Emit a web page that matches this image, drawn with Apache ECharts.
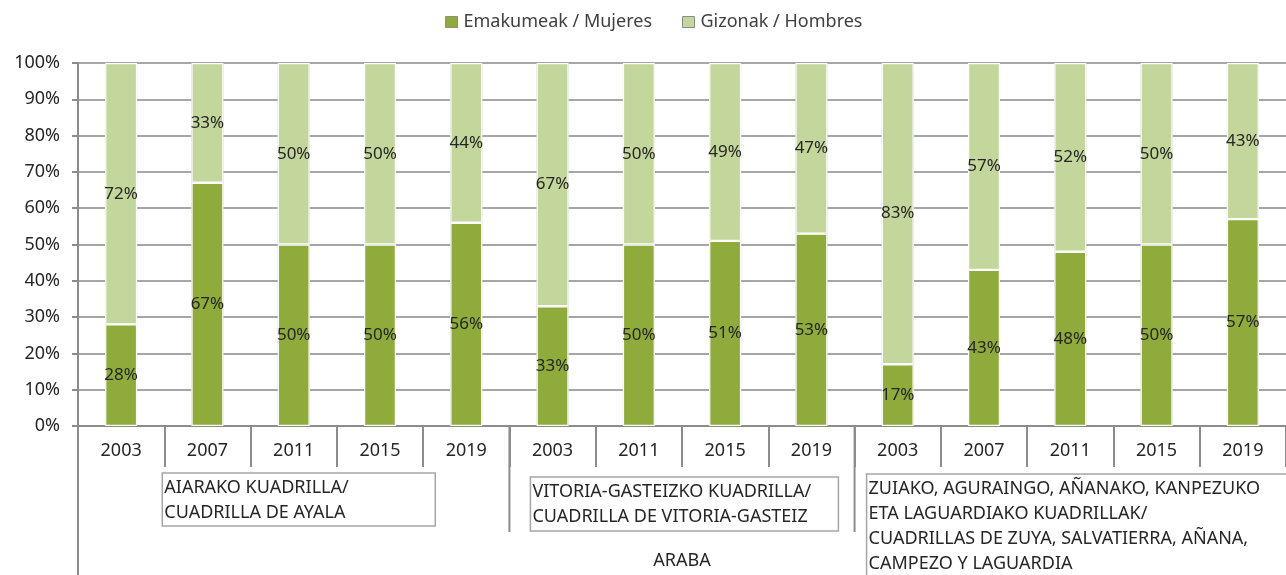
<!DOCTYPE html>
<html><head><meta charset="utf-8">
<script src="https://cdn.jsdelivr.net/npm/echarts@6/dist/echarts.min.js"></script>
<style>html,body{margin:0;padding:0;background:#fff}#c{width:1286px;height:575px}</style>
</head><body><div id="c"></div>
<script>
const years = ['2003','2007','2011','2015','2019','2003','2011','2015','2019','2003','2007','2011','2015','2019'];
const mujeres = [28,67,50,50,56,33,50,51,53,17,43,48,50,57];
const hombres = [72,33,50,50,44,67,50,49,47,83,57,52,50,43];
const groupNames = ['AIARAKO KUADRILLA/\nCUADRILLA DE AYALA','VITORIA-GASTEIZKO KUADRILLA/\nCUADRILLA DE VITORIA-GASTEIZ','ZUIAKO, AGURAINGO, AÑANAKO, KANPEZUKO\nETA LAGUARDIAKO KUADRILLAK/\nCUADRILLAS DE ZUYA, SALVATIERRA, AÑANA,\nCAMPEZO Y LAGUARDIA'];
const topLabel = 'ARABA';

const FONT = 'Noto Sans';
const totals = mujeres.map((v,i) => v + hombres[i]);
const chart = echarts.init(document.getElementById('c'));
const lbl = {show:true, position:'inside', formatter:'{c}%', color:'#262626', fontFamily:FONT, fontSize:17};
chart.setOption({
  animation:false,
  textStyle:{fontFamily:FONT},
  legend:{top:8, left:440, itemWidth:12, itemHeight:11, itemGap:30, icon:'rect',
    data:['Emakumeak / Mujeres','Gizonak / Hombres'],
    textStyle:{fontFamily:FONT, fontSize:18, color:'#404040', padding:[0,0,0,1]},
    itemStyle:{borderColor:'#8c8c8c', borderWidth:1}},
  grid:{left:78, top:63, width:1209, height:363, containLabel:false},
  xAxis:{type:'category', data:years,
    axisLine:{lineStyle:{color:'#8c8c8c', width:2}},
    axisTick:{show:true, length:41, lineStyle:{color:'#8c8c8c', width:2}},
    axisLabel:{color:'#262626', fontSize:18, fontFamily:FONT, margin:16}},
  yAxis:{type:'value', min:0, max:100, interval:10,
    axisLine:{show:true, lineStyle:{color:'#8c8c8c', width:2}},
    axisTick:{show:true, length:6, lineStyle:{color:'#8c8c8c', width:2}},
    axisLabel:{formatter:'{value}%', color:'#262626', fontSize:18, fontFamily:FONT, margin:18},
    splitLine:{show:true, lineStyle:{color:'#a6a6a6', width:2}}},
  series:[
    {name:'outline', type:'bar', data:totals, barWidth:'37%', barGap:'-100%', z:1, silent:true,
     itemStyle:{color:'rgba(0,0,0,0)', borderColor:'#b0b0b0', borderWidth:3}, label:{show:false}},
    {name:'Emakumeak / Mujeres', type:'bar', stack:'a', data:mujeres, barWidth:'37%', z:2,
     itemStyle:{color:'#8fab3b', borderColor:'#fff', borderWidth:1.2}, label:lbl},
    {name:'Gizonak / Hombres', type:'bar', stack:'a', data:hombres, barWidth:'37%', z:2,
     itemStyle:{color:'#c3d69b', borderColor:'#fff', borderWidth:1.2}, label:lbl}
  ]
});

const c0 = chart.convertToPixel({xAxisIndex:0}, 0);
const c1 = chart.convertToPixel({xAxisIndex:0}, 1);
const cw = c1 - c0;
const bound = i => c0 - cw/2 + i*cw;
const y0 = chart.convertToPixel({yAxisIndex:0}, 0);
const gray = '#8c8c8c';
const g = [];
g.push({type:'line', shape:{x1:bound(0), y1:y0, x2:bound(0), y2:575}, style:{stroke:gray, lineWidth:2}});
[5,9].forEach(i => g.push({type:'line', shape:{x1:bound(i), y1:y0, x2:bound(i), y2:y0+106}, style:{stroke:gray, lineWidth:2}}));
const boxes = [
  {x:bound(1)-2, y:y0+47, w:273, h:53},
  {x:bound(5)+21, y:y0+51, w:308, h:54},
  {x:bound(9)+12, y:y0+48, w:430, h:110}
];
boxes.forEach((b,k) => {
  g.push({type:'rect', shape:{x:b.x, y:b.y, width:b.w, height:b.h}, style:{fill:'#fff', stroke:'#a6a6a6', lineWidth:1.5}});
  g.push({type:'text', x:b.x+2, y:b.y+2, style:{text:groupNames[k], font:'18px '+FONT, fill:'#262626', lineHeight:25}});
});
g.push({type:'text', x:(bound(0)+bound(14))/2, y:y0+126, style:{text:topLabel, font:'18px '+FONT, fill:'#262626', textAlign:'center'}});
chart.setOption({graphic:g});
</script></body></html>
